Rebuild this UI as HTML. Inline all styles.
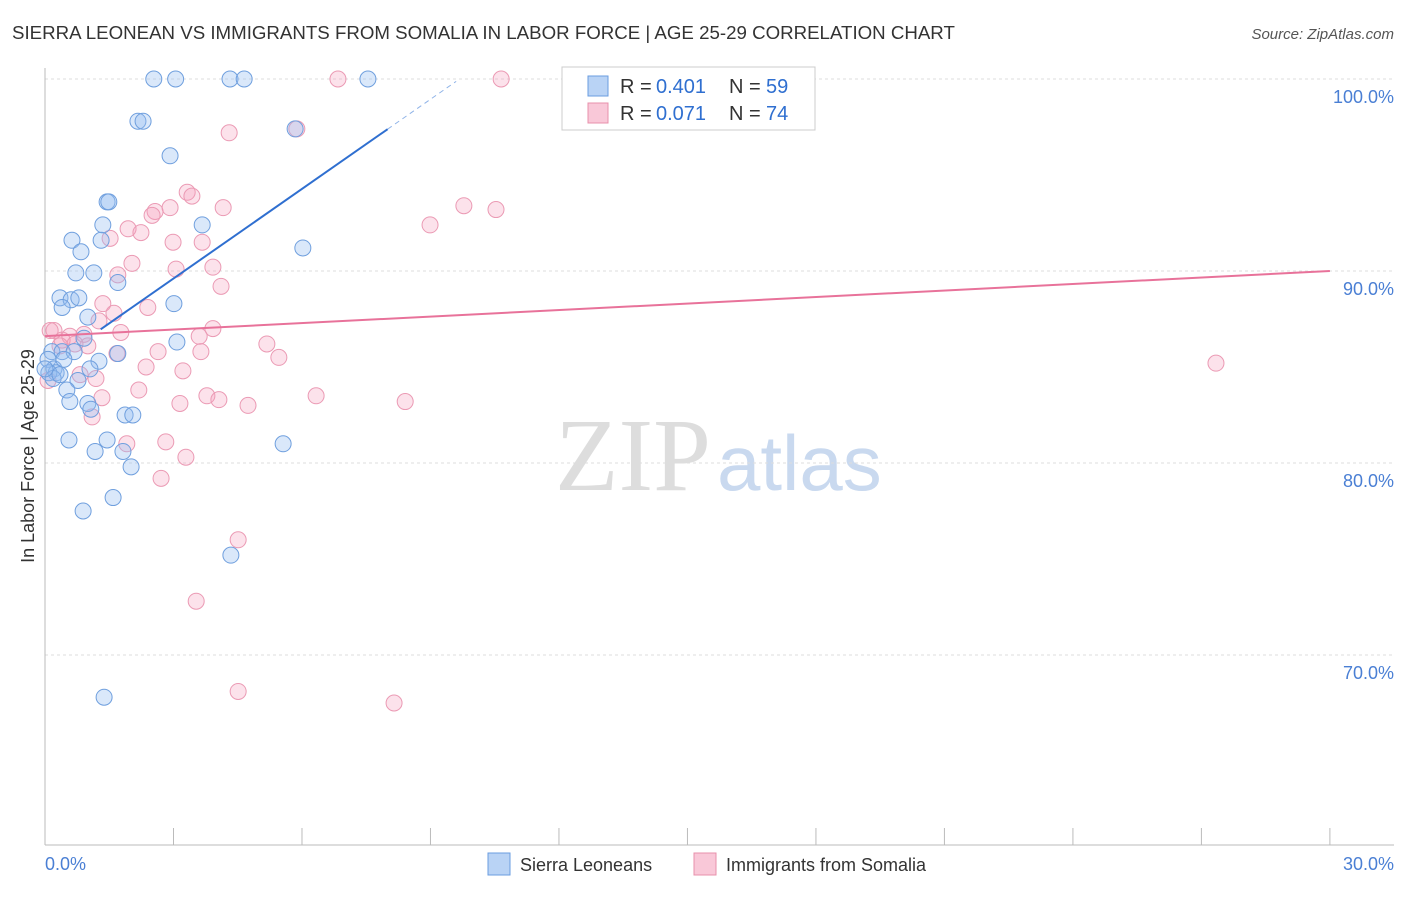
<!DOCTYPE html>
<html><head><meta charset="utf-8"><style>
body{margin:0;background:#fff;font-family:"Liberation Sans",sans-serif;}
</style></head><body>
<svg id="chart" width="1406" height="892" xmlns="http://www.w3.org/2000/svg" font-family="Liberation Sans, sans-serif">
<text x="12" y="39" font-size="18.7" fill="#333">SIERRA LEONEAN VS IMMIGRANTS FROM SOMALIA IN LABOR FORCE | AGE 25-29 CORRELATION CHART</text>
<text x="1394" y="39" font-size="15" fill="#555" text-anchor="end" font-style="italic">Source: ZipAtlas.com</text>
<text x="555" y="490" font-size="104" fill="#ddd" font-family="Liberation Serif, serif">ZIP<tspan fill="#c9d9ef" font-family="Liberation Sans, sans-serif" font-size="78" dx="6">atlas</tspan></text>
<g id="grid"></g><g id="axes"></g><g id="pts"></g><g id="lines"></g>
<text transform="translate(34,456) rotate(-90)" font-size="18" fill="#333" text-anchor="middle">In Labor Force | Age 25-29</text>
<text x="45" y="870" font-size="18" fill="#4a7fd4">0.0%</text>
<text x="1394" y="870" font-size="18" fill="#4a7fd4" text-anchor="end">30.0%</text>
<g>
<rect x="562" y="67" width="253" height="63" fill="#fff" stroke="#ccc"/>
<rect x="588" y="76" width="20" height="20" fill="#b9d3f5" stroke="#6a9ce0"/>
<text x="620" y="93" font-size="20" fill="#333">R = </text><text x="656" y="93" font-size="20" fill="#2f6fd0">0.401</text>
<text x="729" y="93" font-size="20" fill="#333">N = </text><text x="766" y="93" font-size="20" fill="#2f6fd0">59</text>
<rect x="588" y="103" width="20" height="20" fill="#f9c8d8" stroke="#e890ab"/>
<text x="620" y="120" font-size="20" fill="#333">R = </text><text x="656" y="120" font-size="20" fill="#2f6fd0">0.071</text>
<text x="729" y="120" font-size="20" fill="#333">N = </text><text x="766" y="120" font-size="20" fill="#2f6fd0">74</text>
</g>
<g>
<rect x="488" y="853" width="22" height="22" fill="#b9d3f5" stroke="#6a9ce0"/>
<text x="520" y="871" font-size="18" fill="#333">Sierra Leoneans</text>
<rect x="694" y="853" width="22" height="22" fill="#f9c8d8" stroke="#e890ab"/>
<text x="726" y="871" font-size="18" fill="#333">Immigrants from Somalia</text>
</g>
</svg>
<script>
const yTicks=[100,90,80,70];
const xTicks=[0,3,6,9,12,15,18,21,24,27,30];
const blueX=[2.54,3.05,4.32,4.65,7.54,2.17,2.29,2.92,5.84,1.45,1.49,1.35,3.67,0.63,1.31,0.84,6.02,0.72,1.14,1.70,0.35,0.61,0.79,3.01,0.40,1.00,0.91,3.08,0.16,0.40,0.68,1.70,1.26,0.07,0.21,0.26,0.09,0.19,0.77,1.05,0.51,0.58,1.00,1.07,1.87,2.05,0.56,1.45,1.17,1.82,2.01,5.56,1.59,0.89,4.34,1.38,0.35,0.44,0.0];
const blueY=[100,100,100,100,100,97.8,97.8,96.0,97.4,93.6,93.6,92.4,92.4,91.6,91.6,91.0,91.2,89.9,89.9,89.4,88.6,88.5,88.6,88.3,88.1,87.6,86.5,86.3,85.8,85.8,85.8,85.7,85.3,85.4,84.9,84.7,84.7,84.4,84.3,84.9,83.8,83.2,83.1,82.8,82.5,82.5,81.2,81.2,80.6,80.6,79.8,81.0,78.2,77.5,75.2,67.8,84.6,85.4,84.9];
const pinkX=[6.84,10.65,4.30,5.88,3.32,3.43,4.16,2.92,2.57,2.50,9.78,10.53,8.99,1.94,2.24,1.52,2.99,3.67,3.06,3.92,2.03,1.70,4.11,1.35,1.61,1.26,2.40,0.21,0.58,0.91,1.77,3.92,3.60,1.00,0.40,0.70,2.64,3.64,5.18,1.68,5.46,2.36,3.22,1.19,0.82,2.19,3.78,4.06,6.33,8.41,3.15,4.74,1.33,1.10,1.91,2.82,3.29,2.71,4.51,3.53,4.51,8.15,27.34,0.12,0.07,0.35];
const pinkY=[100,100,97.2,97.4,94.1,93.9,93.3,93.3,93.1,92.9,93.4,93.2,92.4,92.2,92.0,91.7,91.5,91.5,90.1,90.2,90.4,89.8,89.2,88.3,87.8,87.4,88.1,86.9,86.6,86.7,86.8,87.0,86.6,86.1,86.4,86.2,85.8,85.8,86.2,85.7,85.5,85.0,84.8,84.4,84.6,83.8,83.5,83.3,83.5,83.2,83.1,83.0,83.4,82.4,81.0,81.1,80.3,79.2,76.0,72.8,68.1,67.5,85.2,86.9,84.3,86.1];
const X=v=>45+v*42.83, Y=v=>79+(100-v)*19.2;
const NS="http://www.w3.org/2000/svg";
function mk(t,a,p){const e=document.createElementNS(NS,t);for(const k in a)e.setAttribute(k,a[k]);p.appendChild(e);return e;}
const grid=document.getElementById('grid'),axes=document.getElementById('axes');
yTicks.forEach(t=>{
 const l=mk('line',{x1:45,x2:1394,y1:Y(t),y2:Y(t),stroke:'#ddd','stroke-dasharray':'3,3'},grid);
 
 
 const tx=mk('text',{x:1394,y:Y(t)+24,'font-size':18,fill:'#4a7fd4','text-anchor':'end'},grid);
 tx.textContent=t.toFixed(1)+'%';
 
 
});
const ax=mk('line',{x1:45,x2:45,y1:68,y2:845,stroke:'#bbb'},axes);


const bx=mk('line',{x1:45,x2:1394,y1:845,y2:845,stroke:'#bbb'},axes);


xTicks.forEach(t=>{
 const l=mk('line',{x1:X(t),x2:X(t),y1:828,y2:845,stroke:'#bbb'},axes);
 
 
});
const pts=document.getElementById('pts');
pinkX.forEach((x,i)=>{
 const c=mk('circle',{cx:X(x),cy:Y(pinkY[i]),r:8,fill:'rgba(244,160,188,0.3)',stroke:'#eb9ab4','stroke-width':1},pts);
 
 
});
blueX.forEach((x,i)=>{
 const c=mk('circle',{cx:X(x),cy:Y(blueY[i]),r:8,fill:'rgba(150,190,240,0.35)',stroke:'#6f9fde','stroke-width':1},pts);
 
 
});
const lines=document.getElementById('lines');
const bf=v=>84.94+1.556*v, pf=v=>86.61+0.113*v;
const b1=mk('line',{x1:X(1.3),y1:Y(bf(1.3)),x2:X(8.0),y2:Y(bf(8.0)),stroke:'#2f6fd0','stroke-width':2},lines);


const b2=mk('line',{x1:X(8.0),y1:Y(bf(8.0)),x2:X(9.6),y2:Y(bf(9.6)),stroke:'#8fb3e8','stroke-width':1,'stroke-dasharray':'5,4'},lines);


const p1=mk('line',{x1:X(0),y1:Y(pf(0)),x2:X(30),y2:Y(pf(30)),stroke:'#e8729a','stroke-width':2},lines);


</script>
</body></html>
